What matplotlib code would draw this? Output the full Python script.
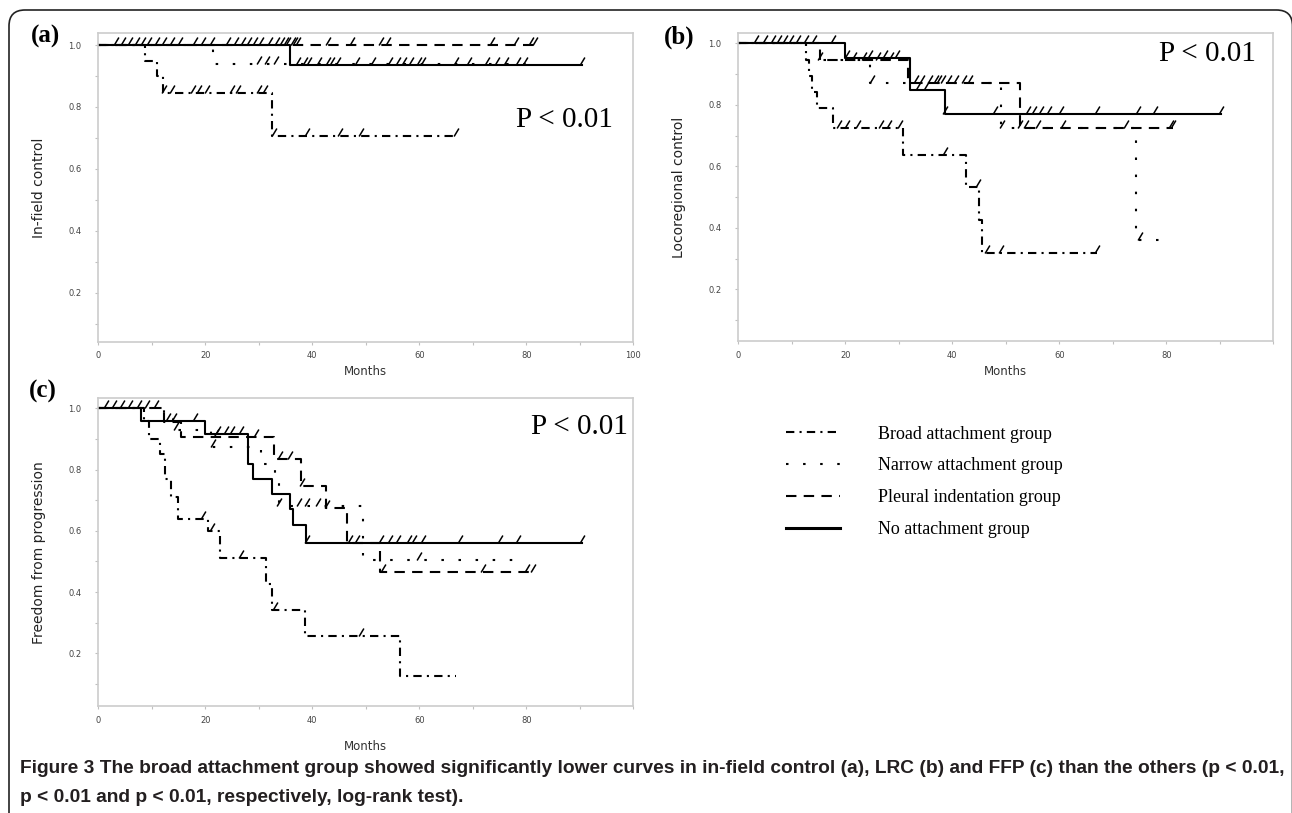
import numpy as np
import matplotlib.pyplot as plt
from matplotlib.path import Path
from matplotlib.lines import Line2D
from matplotlib.patches import FancyBboxPatch
from matplotlib.transforms import IdentityTransform

# ---- data (months, survival fraction) ----
# (a) in-field control
a_broad_t = [0, 8.8, 10.9, 12.0, 32.4, 66.9]
a_broad_s = [1.0, 0.95, 0.90, 0.845, 0.705, 0.705]
a_broad_c = [12.2, 13.8, 17.7, 18.8, 20.4, 25.0, 26.2, 30.1, 31.2, 32.8, 39.0, 45.2, 49.1, 66.9]
a_narrow_t = [0, 21.5, 80.0]
a_narrow_s = [1.0, 0.94, 0.94]
a_narrow_c = [30.1, 31.6, 33.2]
a_pleural_t = [0, 81.6]
a_pleural_s = [1.0, 1.0]
a_pleural_c = [3.3, 6.0, 8.4, 10.9, 13.8, 18.1, 21.2, 25.8, 28.1, 30.5, 33.4, 35.0, 35.5,
               36.3, 36.8, 37.4, 42.9, 47.5, 52.9, 54.1, 73.5, 78.1, 80.9, 81.6]
a_none_t = [0, 35.9, 90.5]
a_none_s = [1.0, 0.937, 0.937]
a_none_c = [4.7, 7.2, 9.5, 12.3, 15.3, 19.6, 24.3, 27.0, 29.3, 32.0, 34.3,
            37.4, 38.6, 39.4, 41.3, 42.9, 43.6, 44.8, 48.3, 51.4, 54.5, 56.0, 57.2, 58.4,
            59.9, 60.7, 66.9, 69.2, 72.7, 74.6, 76.2, 78.5, 79.7, 90.5]

# (b) locoregional control
b_broad_t = [0, 12.6, 13.2, 13.8, 14.8, 17.7, 30.8, 42.5, 45.0, 45.6, 67.0]
b_broad_s = [1.0, 0.947, 0.895, 0.842, 0.79, 0.724, 0.637, 0.534, 0.425, 0.317, 0.317]
b_broad_c = [18.9, 20.4, 22.3, 26.6, 28.2, 30.3, 38.6, 44.8, 46.4, 49.1, 67.0]
b_narrow_t = [0, 12.6, 24.7, 49.1, 74.3, 79.8]
b_narrow_s = [1.0, 0.945, 0.87, 0.724, 0.36, 0.36]
b_narrow_c = [15.2, 25.0, 49.3, 75.1]
b_pleural_t = [0, 15.2, 31.8, 52.6, 81.3]
b_pleural_s = [1.0, 0.945, 0.87, 0.724, 0.724]
b_pleural_c = [21.6, 23.5, 26.2, 28.6, 33.2, 34.4, 35.9, 36.9, 37.5, 38.3, 39.4, 40.6,
               42.1, 43.3, 52.6, 53.8, 56.1, 60.7, 72.4, 80.9, 81.3]
b_none_t = [0, 19.9, 32.0, 38.6, 90.2]
b_none_s = [1.0, 0.954, 0.85, 0.77, 0.77]
b_none_c = [3.3, 4.9, 6.4, 7.6, 8.8, 9.9, 11.1, 12.6, 14.2, 17.7, 20.4, 24.7, 27.4, 29.7,
            33.5, 35.0, 38.6, 47.9, 54.2, 55.3, 56.5, 58.0, 60.4, 67.0, 74.7, 77.8, 90.2]

# (c) freedom from progression
c_broad_t = [0, 8.5, 9.5, 11.5, 12.4, 13.6, 14.9, 20.5, 22.7, 31.3, 32.4, 38.6, 56.4, 66.9]
c_broad_s = [1.0, 0.96, 0.90, 0.85, 0.77, 0.71, 0.64, 0.60, 0.51, 0.425, 0.34, 0.255, 0.125, 0.125]
c_broad_c = [19.6, 21.3, 26.6, 33.0, 49.1]
c_narrow_t = [0, 12.2, 14.0, 21.0, 30.5, 33.0, 33.8, 49.5, 78.5]
c_narrow_s = [1.0, 0.965, 0.93, 0.875, 0.82, 0.76, 0.68, 0.505, 0.505]
c_narrow_c = [14.6, 21.5, 33.8, 37.5, 39.0, 41.0, 59.9]
c_pleural_t = [0, 12.2, 15.5, 32.8, 37.8, 42.5, 46.4, 52.6, 81.6]
c_pleural_s = [1.0, 0.955, 0.905, 0.835, 0.745, 0.675, 0.56, 0.465, 0.465]
c_pleural_c = [1.4, 2.9, 4.5, 6.0, 7.6, 9.1, 10.7, 22.0, 29.5, 34.0, 35.9, 38.0, 42.7,
               47.0, 53.3, 71.9, 80.1, 81.2]
c_none_t = [0, 8.0, 20.0, 27.9, 29.0, 32.4, 35.9, 36.4, 38.9, 90.5]
c_none_s = [1.0, 0.959, 0.918, 0.82, 0.77, 0.72, 0.67, 0.62, 0.561, 0.561]
c_none_c = [13.0, 14.2, 18.1, 22.3, 23.9, 25.0, 26.6, 39.0, 48.3, 52.9, 54.5, 56.0, 58.0,
            59.1, 60.7, 67.7, 75.0, 78.5, 90.5]

group_names = ["Broad attachment group", "Narrow attachment group",
               "Pleural indentation group", "No attachment group"]
group_styles = [(0, (4, 2.5, 1, 2.5)), (0, (1.2, 7)), (0, (5, 3.5)), "-"]

W, H = 1292, 813
fig = plt.figure(figsize=(W / 100, H / 100), dpi=100)

# censor tick: short slash sitting on top of the curve
slash = Path([(-0.3, 0.0), (0.3, 1.0)], [Path.MOVETO, Path.LINETO])


def add_ax(l, t, r, b):
    return fig.add_axes([l / W, 1 - b / H, (r - l) / W, (b - t) / H])


def km(ax, t, s, cens, ls):
    ax.step(t, s, where="post", color="black", lw=1.5, linestyle=ls)
    t = np.asarray(t)
    s = np.asarray(s)
    idx = np.searchsorted(t, cens, side="right") - 1
    ax.plot(cens, s[idx], linestyle="none", marker=slash, ms=11.5,
            mec="black", mew=1.1)


def style_ax(ax, xlabels_to, ylab, ylim, months_y):
    ax.set_xlim(0, 100)
    ax.set_ylim(*ylim)
    ax.set_xticks(np.arange(0, xlabels_to + 1, 20))
    ax.set_xticks(np.arange(10, 101, 10), minor=True)
    ax.set_yticks([0.2, 0.4, 0.6, 0.8, 1.0])
    ax.set_yticks([0.1, 0.3, 0.5, 0.7, 0.9], minor=True)
    ax.set_yticklabels(["0.2", "0.4", "0.6", "0.8", "1.0"])
    for sp in ax.spines.values():
        sp.set_color("#cccccc")
        sp.set_linewidth(1.2)
    ax.tick_params(which="both", length=2.5, width=0.8, color="#c0c0c0",
                   labelsize=6, labelcolor="#444444")
    ax.tick_params(axis="y", pad=9.5)
    ax.tick_params(axis="x", pad=4.5)
    ax.set_ylabel(ylab, fontsize=10, color="#222222")
    ax.yaxis.set_label_coords(-0.098, 0.5)
    ax.set_xlabel("Months", fontsize=8.5, color="#333333", va="center")
    ax.xaxis.set_label_coords(0.5, months_y)


ax_a = add_ax(98.3, 33.3, 633.3, 341.7)
ax_b = add_ax(738.3, 33.3, 1273.3, 341.0)
ax_c = add_ax(98.3, 398.3, 633.3, 706.0)

for ax, groups in [
    (ax_a, [(a_broad_t, a_broad_s, a_broad_c), (a_narrow_t, a_narrow_s, a_narrow_c),
            (a_pleural_t, a_pleural_s, a_pleural_c), (a_none_t, a_none_s, a_none_c)]),
    (ax_b, [(b_broad_t, b_broad_s, b_broad_c), (b_narrow_t, b_narrow_s, b_narrow_c),
            (b_pleural_t, b_pleural_s, b_pleural_c), (b_none_t, b_none_s, b_none_c)]),
    (ax_c, [(c_broad_t, c_broad_s, c_broad_c), (c_narrow_t, c_narrow_s, c_narrow_c),
            (c_pleural_t, c_pleural_s, c_pleural_c), (c_none_t, c_none_s, c_none_c)]),
]:
    for (t, s, cens), ls in zip(groups, group_styles):
        km(ax, t, s, cens, ls)

style_ax(ax_a, 100, "In-field control", (0.042, 1.038), -0.098)
style_ax(ax_b, 80, "Locoregional control", (0.032, 1.033), -0.10)
style_ax(ax_c, 80, "Freedom from progression", (0.028, 1.033), -0.132)

serif = ["Liberation Serif", "DejaVu Serif"]
ax_a.text(0.872, 0.719, "P < 0.01", transform=ax_a.transAxes, ha="center", va="center",
          fontsize=21, family=serif)
ax_b.text(0.876, 0.933, "P < 0.01", transform=ax_b.transAxes, ha="center", va="center",
          fontsize=21, family=serif)
ax_c.text(0.90, 0.907, "P < 0.01", transform=ax_c.transAxes, ha="center", va="center",
          fontsize=21, family=serif)

for lab, x, y in [("(a)", 46, 36), ("(b)", 679, 37), ("(c)", 43, 391)]:
    fig.text(x / W, 1 - y / H, lab, ha="center", va="center", fontsize=18,
             fontweight="bold", family=serif)

handles = [Line2D([], [], color="black", lw=1.5, linestyle=ls) for ls in group_styles]
handles[-1].set_linewidth(2.2)
fig.legend(handles, group_names, loc="upper left", bbox_to_anchor=(785.5 / W, 1 - 425.5 / H),
           frameon=False, borderpad=0, borderaxespad=0, handlelength=3.0,
           handletextpad=2.1, labelspacing=0.82, prop={"family": serif, "size": 13})

# caption
cap_font = ["Liberation Sans", "DejaVu Sans"]
fig.text(20 / W, 1 - 768 / H,
         "Figure 3 The broad attachment group showed significantly lower curves in in-field "
         "control (a), LRC (b) and FFP (c) than the others (p < 0.01,",
         va="center", ha="left", fontsize=13.8, fontweight="bold", family=cap_font,
         color="#231f20")
fig.text(20 / W, 1 - 797 / H, "p < 0.01 and p < 0.01, respectively, log-rank test).",
         va="center", ha="left", fontsize=13.8, fontweight="bold", family=cap_font,
         color="#231f20")

# rounded frame around the whole figure
frame = FancyBboxPatch((9, -40), 1283.5, H - 10 + 40,
                       boxstyle="round,pad=0,rounding_size=16",
                       transform=IdentityTransform(), fill=False, ec="#222222", lw=1.2)
fig.add_artist(frame)

fig.savefig("out.png", dpi=100)
